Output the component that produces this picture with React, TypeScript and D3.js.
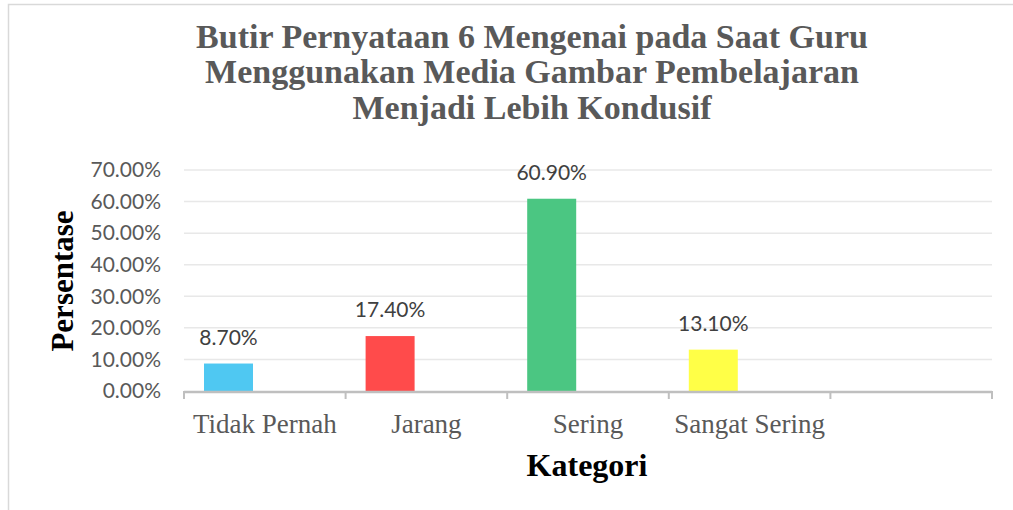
import React from "react";
import * as d3 from "d3";

const titleLines = [
  "Butir Pernyataan 6 Mengenai pada Saat Guru",
  "Menggunakan Media Gambar Pembelajaran",
  "Menjadi Lebih Kondusif",
];
const categories = ["Tidak Pernah", "Jarang", "Sering", "Sangat Sering", ""];
const values = [0.087, 0.174, 0.609, 0.131];
const barColors = ["#4FC8F2", "#FF4B4B", "#4BC682", "#FFFF47"];
const yTicks = [0, 0.1, 0.2, 0.3, 0.4, 0.5, 0.6, 0.7];

const width = 1013;
const height = 510;
const plot = { left: 184, right: 992, top: 170, bottom: 391 };

const sans = "Lato, 'Open Sans', sans-serif";
const serif = "'Liberation Serif', 'Times New Roman', serif";

export default function App() {
  const x = d3
    .scaleBand<string>()
    .domain(categories)
    .range([plot.left, plot.right]);
  const y = d3.scaleLinear().domain([0, 0.7]).range([plot.bottom, plot.top]);
  const fmt = d3.format(".2%");

  const bw = x.bandwidth();
  // bars sit in the left part of each slot, like an Excel clustered chart
  const barOffset = bw * (20 / 161.6);
  const barWidth = bw * (49 / 161.6);

  const ticksX = categories.map((c) => x(c) as number).concat([plot.right]);

  return (
    <svg
      width={width}
      height={height}
      style={{ position: "absolute", left: 0, top: 0, background: "#fff" }}
    >
      {/* chart frame */}
      <rect x={8.5} y={4.5} width={1100} height={600} fill="#fff" stroke="#d9d9d9" strokeWidth={1.5} />

      {/* title */}
      <g fontFamily={serif} fontWeight="bold" fontSize={34} fill="#595959" textAnchor="middle">
        {titleLines.map((t, i) => (
          <text key={i} x={532} y={47.5 + i * 35.5}>
            {t}
          </text>
        ))}
      </g>

      {/* gridlines */}
      {yTicks.slice(1).map((t) => (
        <line key={t} x1={plot.left} x2={plot.right} y1={y(t)} y2={y(t)} stroke="#e8e8e8" strokeWidth={1.5} />
      ))}

      {/* y tick labels */}
      <g fontFamily={sans} fontSize={21} fill="#595959" textAnchor="end">
        {yTicks.map((t) => (
          <text key={t} x={161} y={y(t)} dy="0.35em">
            {fmt(t)}
          </text>
        ))}
      </g>

      {/* bars */}
      {values.map((v, i) => (
        <rect
          key={i}
          x={(x(categories[i]) as number) + barOffset}
          y={y(v)}
          width={barWidth}
          height={plot.bottom - y(v)}
          fill={barColors[i]}
        />
      ))}

      {/* data labels */}
      <g fontFamily={sans} fontSize={21} fill="#404040" textAnchor="middle">
        {values.map((v, i) => (
          <text key={i} x={(x(categories[i]) as number) + barOffset + barWidth / 2} y={y(v) - 19}>
            {fmt(v)}
          </text>
        ))}
      </g>

      {/* x axis */}
      <line x1={plot.left} x2={plot.right} y1={plot.bottom + 1} y2={plot.bottom + 1} stroke="#bfbfbf" strokeWidth={2.5} />
      {ticksX.map((tx, i) => (
        <line key={i} x1={tx} x2={tx} y1={plot.bottom} y2={plot.bottom + 8} stroke="#bfbfbf" strokeWidth={2} />
      ))}

      {/* x tick labels */}
      <g fontFamily={serif} fontSize={27} fill="#595959" textAnchor="middle">
        {categories.map((c) => (
          <text key={c} x={(x(c) as number) + bw / 2} y={433}>
            {c}
          </text>
        ))}
      </g>

      {/* axis titles */}
      <text x={587} y={476} fontFamily={serif} fontWeight="bold" fontSize={32} textAnchor="middle" fill="#000">
        Kategori
      </text>
      <text
        transform="translate(73,281) rotate(-90)"
        fontFamily={serif}
        fontWeight="bold"
        fontSize={31}
        textAnchor="middle"
        fill="#000"
      >
        Persentase
      </text>
    </svg>
  );
}
